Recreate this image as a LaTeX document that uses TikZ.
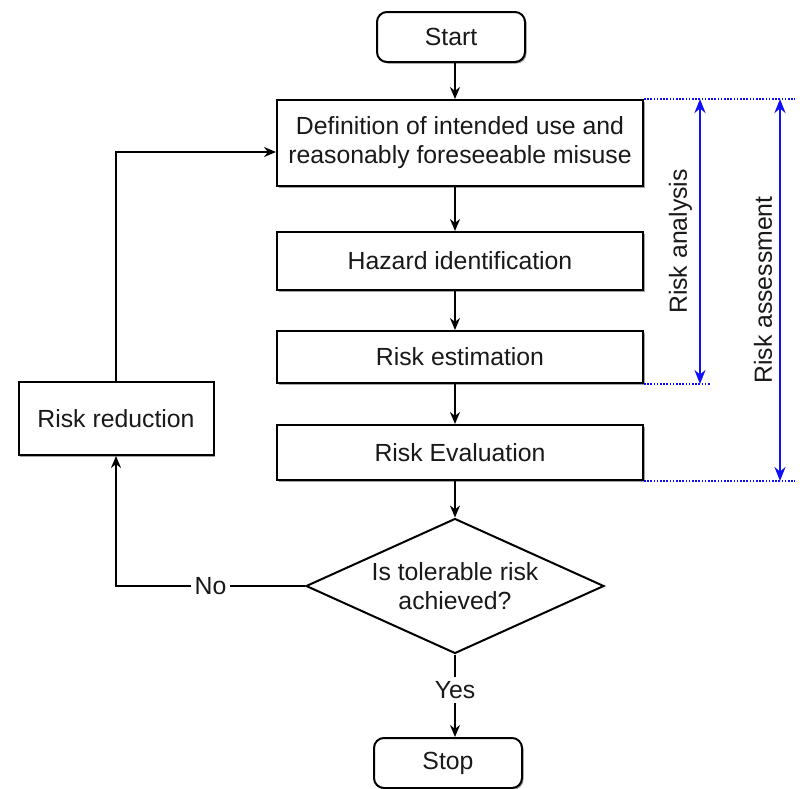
\documentclass[tikz,border=0pt]{standalone}
\usepackage{fontspec}
\setmainfont{Liberation Sans}
\usetikzlibrary{shapes.geometric,arrows.meta,shadows}
\definecolor{flowblue}{RGB}{15,15,250}
\definecolor{flowtext}{RGB}{25,25,25}

\begin{document}
\begin{tikzpicture}[x=0.5pt, y=-0.5pt, font=\fontsize{12.4}{14.5}\selectfont, text=flowtext,
  stepbox/.style={draw, line width=1pt, fill=white, minimum width=183pt, align=center, inner sep=0pt,
    drop shadow={shadow xshift=0.8pt, shadow yshift=-0.8pt, fill=black!60, opacity=0.6}},
  endbox/.style={stepbox, rounded corners=5pt, minimum width=74pt, minimum height=25pt},
  flow/.style={line width=1pt, -{Stealth[length=6pt, width=5pt]}},
  bluearrow/.style={flowblue, line width=1.2pt, {Stealth[length=7pt, width=5.5pt]}-{Stealth[length=7pt, width=5.5pt]}},
  dotline/.style={flowblue, line width=0.8pt, dash pattern=on 0.8pt off 0.8pt},
  lbl/.style={fill=white, inner sep=2pt, text=flowtext}]
  \useasboundingbox (0,0) rectangle (800,789);

  \coordinate (axis) at (455,0);
  \coordinate (ra) at (700,0);
  \coordinate (rs) at (780,0);
  \coordinate (enda) at (710,0);
  \coordinate (ends) at (795,0);

  \node[endbox] (start) at (451,37) {Start};
  \node[stepbox, minimum height=43pt] (def) at (460,143) {Definition of intended use and\\reasonably foreseeable misuse};
  \node[stepbox, minimum height=29pt] (haz) at (460,261) {Hazard identification};
  \node[stepbox, minimum height=26pt] (est) at (460,357) {Risk estimation};
  \node[stepbox, minimum height=27.5pt] (eva) at (460,452.5) {Risk Evaluation};
  \node[draw, diamond, aspect=2.2, line width=1pt, fill=white, minimum width=149pt, minimum height=67.5pt,
    inner sep=0pt, align=center] (dec) at (455,586) {Is tolerable risk\\achieved?};
  \node[endbox] (stop) at (448,763) {Stop};
  \node[stepbox, minimum width=97.5pt, minimum height=36.5pt] (red) at (116,418.5) {Risk reduction};

  % main flow
  \draw[flow] (start.south -| axis) -- (def.north -| axis);
  \draw[flow] (def.south -| axis) -- (haz.north -| axis);
  \draw[flow] (haz.south -| axis) -- (est.north -| axis);
  \draw[flow] (est.south -| axis) -- (eva.north -| axis);
  \draw[flow] (eva.south -| axis) -- (dec.north);
  \draw[flow] (dec.south) -- node[lbl, pos=0.43]{Yes} (stop.north -| axis);

  % loop back
  \draw[flow] (dec.west) -| node[lbl, pos=0.25]{No} (red.south);
  \draw[flow] (red.north) |- ([yshift=-4.5pt]def.west);

  % analysis / assessment spans
  \draw[dotline] (def.north east) -- (def.north east -| ends);
  \draw[dotline] (est.south east) -- (est.south east -| enda);
  \draw[dotline] (eva.south east) -- (eva.south east -| ends);
  \draw[bluearrow] (def.north east -| ra) -- node[rotate=90, anchor=south, text=flowtext]{Risk analysis} (est.south east -| ra);
  \draw[bluearrow] (def.north east -| rs) -- node[rotate=90, anchor=south, text=flowtext]{Risk assessment} (eva.south east -| rs);
\end{tikzpicture}
\end{document}
